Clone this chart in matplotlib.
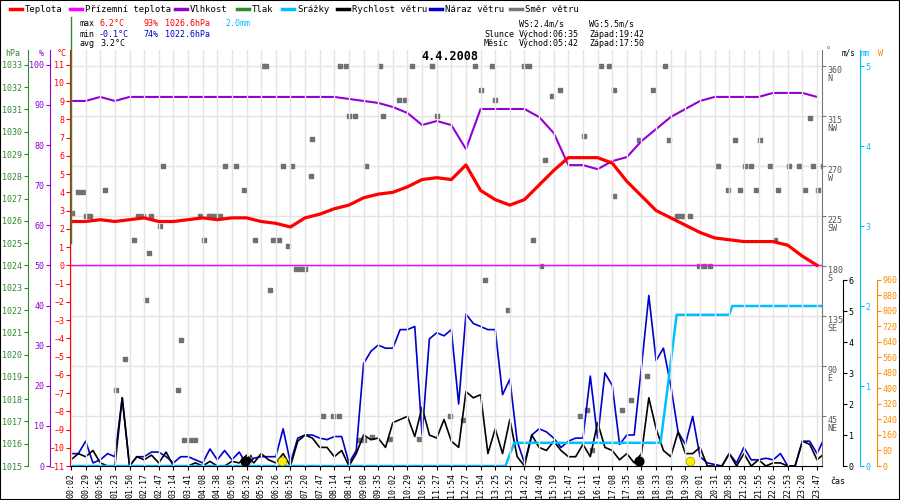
import numpy as np
import matplotlib
matplotlib.use("Agg")
import matplotlib.pyplot as plt

plt.rcParams['font.family'] = ['DejaVu Sans Mono']
plt.rcParams['font.size'] = 6

# time labels (x axis is sample index based)
time_labels = ["00:02", "00:29", "00:56", "01:23", "01:50", "02:17", "02:47", "03:14", "03:41",
               "04:08", "04:38", "05:05", "05:32", "05:59", "06:26", "06:53", "07:20", "07:47",
               "08:14", "08:41", "09:08", "09:35", "10:02", "10:29", "10:56", "11:27", "11:54",
               "12:27", "12:54", "13:25", "13:52", "14:22", "14:49", "15:19", "15:47", "16:11",
               "16:41", "17:08", "17:35", "18:06", "18:33", "19:03", "19:30", "20:01", "20:31",
               "20:58", "21:28", "21:55", "22:26", "22:53", "23:20", "23:47"]

temp = [2.4, 2.4, 2.5, 2.4, 2.5, 2.6, 2.4, 2.4, 2.5, 2.6, 2.5, 2.6, 2.6, 2.4, 2.3, 2.1, 2.6,
        2.8, 3.1, 3.3, 3.7, 3.9, 4.0, 4.3, 4.7, 4.8, 4.7, 5.5, 4.1, 3.6, 3.3, 3.6, 4.4, 5.2,
        5.9, 5.9, 5.9, 5.6, 4.6, 3.8, 3.0, 2.6, 2.2, 1.8, 1.5, 1.4, 1.3, 1.3, 1.3, 1.1, 0.5, 0.0]

humidity = [91, 91, 92, 91, 92, 92, 92, 92, 92, 92, 92, 92, 92, 92, 92, 92, 92, 92, 92, 91.5,
            91, 90.5, 89.5, 88, 85, 86, 85, 79, 89, 89, 89, 89, 87, 83, 75, 75, 74, 76, 77, 81,
            84, 87, 89, 91, 92, 92, 92, 92, 93, 93, 93, 92]

# wind sampled every half label
gust = [0.4, 0.4, 0.8, 0.1, 0.2, 0.4, 0.3, 2.2, 0.0, 0.3, 0.3, 0.45, 0.45, 0.3, 0.1, 0.3, 0.3,
        0.2, 0.1, 0.55, 0.2, 0.5, 0.2, 0.45, 0.05, 0.25, 0.3, 0.3, 0.3, 1.2, 0.1, 0.9, 1.0, 1.0,
        0.9, 0.85, 0.95, 0.95, 0.1, 0.5, 3.3, 3.7, 3.9, 3.8, 3.8, 4.4, 4.4, 4.5, 1.0, 4.1, 4.3,
        4.2, 4.4, 2.0, 4.9, 4.6, 4.5, 4.4, 4.4, 2.3, 2.8, 0.8, 0.1, 1.0, 1.2, 1.1, 0.9, 0.6, 0.8,
        0.9, 0.9, 2.9, 0.9, 3.0, 2.6, 0.7, 1.0, 1.0, 3.2, 5.5, 3.4, 3.8, 2.6, 1.1, 0.7, 1.6, 0.3,
        0.1, 0.05, 0.0, 0.4, 0.1, 0.6, 0.2, 0.2, 0.25, 0.2, 0.4, 0.0, 0.0, 0.8, 0.8, 0.4, 0.9]
speed = [0.2, 0.4, 0.3, 0.5, 0.1, 0.0, 0.0, 2.2, 0.0, 0.3, 0.2, 0.35, 0.1, 0.45, 0.0, 0.0, 0.0,
         0.1, 0.0, 0.15, 0.0, 0.0, 0.15, 0.1, 0.35, 0.1, 0.4, 0.2, 0.1, 0.4, 0.0, 0.8, 1.0, 0.9,
         0.6, 0.6, 0.3, 0.5, 0.0, 0.4, 1.0, 0.85, 0.9, 0.6, 1.4, 1.5, 1.6, 0.95, 1.9, 1.0, 0.9,
         1.5, 0.8, 0.6, 2.4, 2.2, 2.3, 0.4, 1.2, 0.4, 1.5, 0.3, 0.0, 1.0, 0.6, 0.5, 0.8, 0.5, 0.3,
         0.3, 0.7, 0.3, 1.4, 0.6, 0.5, 0.2, 0.4, 0.1, 0.4, 2.2, 1.2, 0.5, 0.3, 1.1, 0.4, 0.4, 0.6,
         0.0, 0.0, 0.0, 0.4, 0.0, 0.4, 0.0, 0.2, 0.0, 0.1, 0.1, 0.0, 0.0, 0.8, 0.7, 0.2, 0.4]

rain_pos = [0, 29.7, 30.3, 40.3, 40.8, 41.4, 45.0, 45.2, 51.4]
rain_mm = [0, 0, 0.29, 0.29, 1.0, 1.89, 1.89, 2.0, 2.0]

dir_pos = [0.1, 0.5, 0.8, 1.0, 1.3, 2.3, 3.1, 3.7, 4.3, 4.6, 4.9, 5.1, 5.3, 5.5, 6.1, 6.3, 7.3,
           7.5, 7.7, 8.1, 8.5, 8.8, 9.1, 9.4, 9.6, 9.9, 10.2, 10.5, 11.3, 11.8, 12.6, 13.1, 13.3,
           13.6, 13.8, 14.2, 14.5, 14.8, 15.1, 15.4, 15.7, 16.0, 16.4, 16.5, 17.2, 17.9, 18.3,
           18.4, 18.8, 19.0, 19.4, 19.7, 20.0, 20.2, 20.6, 21.1, 21.3, 21.8, 22.4, 22.8, 23.3,
           23.8, 24.7, 25.0, 25.9, 26.8, 27.6, 28.0, 28.3, 28.8, 29.0, 29.9, 31.0, 31.3, 31.6,
           32.1, 32.4, 32.9, 33.4, 34.8, 35.1, 35.3, 35.6, 36.2, 36.8, 37.1, 37.1, 37.7, 38.3,
           38.8, 39.4, 39.8, 40.6, 40.9, 41.4, 41.8, 42.3, 42.9, 43.3, 43.7, 44.2, 44.9, 45.4,
           45.7, 46.1, 46.5, 46.8, 47.1, 47.8, 48.1, 48.3, 49.1, 49.8, 50.2, 50.5, 50.7, 51.1, 51.4]
dir_deg = [228, 247, 247, 225, 225, 248, 68, 96, 203, 225, 225, 149, 192, 225, 216, 270, 68,
           113, 23, 23, 23, 225, 203, 225, 225, 225, 225, 270, 270, 248, 203, 360, 360,
           158, 203, 203, 270, 198, 270, 177, 177, 177, 261, 294, 45, 45, 45,
           360, 360, 315, 315, 23, 23, 270, 26, 360, 315, 24, 329, 329, 360,
           24, 360, 315, 45, 41, 360, 338, 167, 360, 329, 140, 360, 360, 203,
           180, 275, 333, 338, 45, 297, 50, 14, 360, 360, 338, 243, 50, 59,
           293, 81, 338, 360, 293, 225, 225, 225, 180, 180, 180, 270, 248, 293,
           248, 270, 270, 248, 293, 270, 203, 248, 270, 270, 248, 313, 270, 248, 270]

moon_pos = [11.9, 38.8]
sun_pos = [14.4, 42.3]

W, H = 900, 500
fig = plt.figure(figsize=(9, 5), dpi=100)
L, R, B, T = 70, 822, 466, 50
rect = [L / W, 1 - B / H, (R - L) / W, (B - T) / H]

def ftxt(x, y, s, **kw):
    fig.text(x / W, 1 - y / H, s, va='center', **kw)

ax = fig.add_axes(rect)
n = len(time_labels)
xlim = (-0.07, 51.34)
ax.set_xlim(*xlim)
ax.set_ylim(-11, 11.8)
xi = np.arange(n)
xh = np.arange(len(gust)) / 2.0

# direction axis (also gives horizontal grid)
axd = ax.twinx()
axd.set_ylim(0, 374.4)
deg_ticks = [45, 90, 135, 180, 225, 270, 315, 360]
deg_names = ["NE", "E", "SE", "S", "SW", "W", "NW", "N"]
axd.set_yticks(deg_ticks)
axd.set_yticklabels([f"{d}\n{c}" for d, c in zip(deg_ticks, deg_names)], color='#555555',
                    fontsize=6, linespacing=0.9, va='top')
axd.tick_params(axis='y', length=3, color='#777777', pad=1)
for d in deg_ticks:
    axd.axhline(d, color='#e4e4e4', lw=1, zorder=0)
for i in xi:
    ax.axvline(i, color='#e4e4e4', lw=1, zorder=0)
axd.scatter(dir_pos, dir_deg, marker='s', s=9, color='#707070', zorder=2)
axd.spines['right'].set_color('#777777')

ax.axhline(0, color='#ff00ff', lw=1)

# humidity
axh = ax.twinx()
axh.set_ylim(0, 103.7)
axh.plot(xi, humidity, color='#9400d3', lw=1.5)
axh.spines['right'].set_visible(False)
axh.spines['left'].set_position(('axes', -0.0266))
axh.spines['left'].set_color('#9400d3')
axh.yaxis.tick_left()
axh.set_yticks(range(0, 101, 10))
axh.tick_params(axis='y', colors='#9400d3', length=3, pad=1, labelsize=6)

# pressure axis (no data)
axp = ax.twinx()
axp.set_ylim(1015, 1033.67)
axp.spines['right'].set_visible(False)
axp.spines['left'].set_position(('axes', -0.0559))
axp.spines['left'].set_color('#2e8b2e')
axp.yaxis.tick_left()
axp.set_yticks(range(1015, 1034))
axp.tick_params(axis='y', colors='#2e8b2e', length=3, pad=1, labelsize=6)

# wind
axw = ax.twinx()
axw.set_ylim(0, 13.42)
axw.plot(xh, gust, color='#0000cc', lw=1.2, zorder=4)
axw.plot(xh, speed, color='black', lw=1.2, zorder=5)
axw.spines['right'].set_position(('axes', 1.028))
axw.spines['right'].set_bounds(0, 6)
axw.set_yticks(range(0, 7))
axw.tick_params(axis='y', colors='black', length=3, pad=1, labelsize=6)

# rain
axr = ax.twinx()
axr.set_ylim(0, 5.2)
axr.plot(rain_pos, rain_mm, color='#00bfff', lw=1.8, zorder=3)
axr.spines['right'].set_position(('axes', 1.0505))
axr.spines['right'].set_color('#00bfff')
axr.set_yticks(range(0, 6))
axr.tick_params(axis='y', colors='#00bfff', length=3, pad=1, labelsize=6)

# radiation axis (no data)
axs = ax.twinx()
axs.set_ylim(0, 2147)
axs.spines['right'].set_position(('axes', 1.073))
axs.spines['right'].set_color('#ff8c00')
axs.spines['right'].set_bounds(0, 960)
axs.set_yticks(range(0, 961, 80))
axs.tick_params(axis='y', colors='#ff8c00', length=3, pad=1, labelsize=6)

for a in (axh, axp, axw, axr, axs, axd):
    a.spines['top'].set_visible(False)
    a.spines['bottom'].set_visible(False)
    a.set_xlim(*xlim)
for a in (axw, axr, axs, axd):
    a.spines['left'].set_visible(False)

# temperature on top
ax.set_zorder(axs.get_zorder() + 1)
ax.patch.set_visible(False)
ax.plot(xi, temp, color='#ff0000', lw=2.3, zorder=6)
ax.scatter(moon_pos, [-10.7, -10.7], s=40, color='black', zorder=7)
ax.scatter(sun_pos, [-10.7, -10.7], s=40, color='#ffee00', edgecolor='#999900', lw=0.5, zorder=7)
ax.annotate('', xy=(12.3, -10.2), xytext=(12.3, -11), arrowprops=dict(arrowstyle='->', lw=0.6))

ax.set_yticks(range(-11, 12))
ax.tick_params(axis='y', colors='red', length=3, pad=1, labelsize=6)
ax.spines['left'].set_color('red')
ax.spines['top'].set_visible(False)
ax.spines['right'].set_visible(False)
ax.spines['bottom'].set_color('black')
ax.set_xticks(xi)
ax.set_xticklabels(time_labels, rotation=90, fontsize=6)
ax.tick_params(axis='x', length=3, pad=2)

# title and texts
ftxt(450, 57, "4.4.2008", ha='center', fontsize=8.5, fontweight='bold')
legend = [(10, "Teplota", '#ff0000'), (70, "Přízemní teplota", '#ff00ff'),
          (175, "Vlhkost", '#9400d3'), (237, "Tlak", '#2e8b2e'), (282, "Srážky", '#00bfff'),
          (337, "Rychlost větru", 'black'), (430, "Náraz větru", '#0000cc'),
          (510, "Směr větru", '#777777')]
for x, s, c in legend:
    fig.add_artist(plt.Line2D([x / W, (x + 12) / W], [1 - 9 / H, 1 - 9 / H], color=c, lw=2.5))
    ftxt(x + 15, 9, s, fontsize=6.5)

ftxt(80, 24, "max", fontsize=6)
ftxt(100, 24, "6.2°C", color='red', fontsize=6)
ftxt(143, 24, "93%", color='red', fontsize=6)
ftxt(165, 24, "1026.6hPa", color='red', fontsize=6)
ftxt(225, 24, "2.0mm", color='#00bfff', fontsize=6)
ftxt(80, 34, "min", fontsize=6)
ftxt(99, 34, "-0.1°C", color='#0000cc', fontsize=6)
ftxt(143, 34, "74%", color='#0000cc', fontsize=6)
ftxt(165, 34, "1022.6hPa", color='#0000cc', fontsize=6)
ftxt(80, 44, "avg", fontsize=6)
ftxt(100, 44, "3.2°C", fontsize=6)
ftxt(519, 24, "WS:2.4m/s", fontsize=6)
ftxt(589, 24, "WG:5.5m/s", fontsize=6)
ftxt(484, 34, "Slunce", fontsize=6)
ftxt(519, 34, "Východ:06:35", fontsize=6)
ftxt(589, 34, "Západ:19:42", fontsize=6)
ftxt(484, 44, "Měsíc", fontsize=6)
ftxt(519, 44, "Východ:05:42", fontsize=6)
ftxt(589, 44, "Západ:17:50", fontsize=6)

ftxt(5, 53, "hPa", color='#2e8b2e', fontsize=6)
ftxt(39, 53, "%", color='#9400d3', fontsize=6)
ftxt(57, 53, "°C", color='red', fontsize=6)
ftxt(826, 51, "°", color='#777777', fontsize=6)
ftxt(842, 53, "m/s", fontsize=5.5)
ftxt(861, 53, "mm", color='#00bfff', fontsize=5.5)
ftxt(878, 53, "W", color='#ff8c00', fontsize=6)
ftxt(830, 481, "čas", fontsize=6)

fig.add_artist(plt.Line2D([71 / W, 71 / W], [1 - 17 / H, 1 - 243 / H], color='#2e8b2e', lw=1))
fig.add_artist(plt.Rectangle((0, 0), 1, 1, fill=False, edgecolor='black', lw=1.5,
                             transform=fig.transFigure))

fig.savefig("out.png", dpi=100, facecolor='white')
